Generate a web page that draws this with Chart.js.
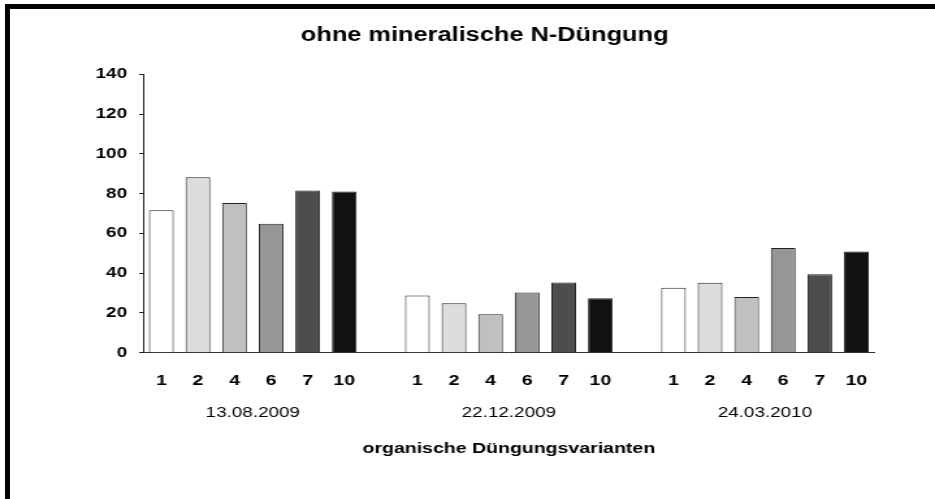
<!DOCTYPE html>
<html>
<head>
<meta charset="utf-8">
<script src="https://cdn.jsdelivr.net/npm/chart.js@4/dist/chart.umd.min.js"></script>
<style>
  html, body { margin: 0; padding: 0; background: #fff; width: 935px; height: 499px; overflow: hidden; }
  #frame { position: absolute; left: 5px; top: 4px; width: 930px; height: 495px; border-top: 5px solid #000; border-left: 5px solid #000; box-sizing: border-box; pointer-events: none; }
  #wrap { position: absolute; left: 0; top: 0; width: 719px; height: 499px; transform: scaleX(1.30042); transform-origin: 0 0; }
</style>
</head>
<body>
<div id="wrap"><canvas id="c" width="719" height="499"></canvas></div>
<div id="frame"></div>
<script>
// ---- data ----
const variants = ['1', '2', '4', '6', '7', '10'];
const dates = ['13.08.2009', '22.12.2009', '24.03.2010'];
const values_13_08_2009 = [71.6, 88.2, 75.3, 64.9, 81.6, 81.1];
const values_22_12_2009 = [28.8, 24.9, 19.3, 30.3, 35.3, 27.4];
const values_24_03_2010 = [32.7, 35.2, 28.0, 52.6, 39.4, 50.9];
const yTickStep = 20;
const yMax = 140;
const variantColors = ['#ffffff', '#dddddd', '#c0c0c0', '#969696', '#4d4d4d', '#111111'];

// ---- build category table: 6 bars, blank slot, 6 bars, blank slot, 6 bars ----
const groups = [values_13_08_2009, values_22_12_2009, values_24_03_2010];
const labels = [];
const dateSlots = [];
const data = [];
const colors = [];
groups.forEach((vals, g) => {
  if (g > 0) { labels.push(''); dateSlots.push(''); data.push(null); colors.push('#ffffff'); }
  vals.forEach((v, i) => {
    labels.push(variants[i]);
    dateSlots.push(i === Math.floor((vals.length - 1) / 2) ? dates[g] : '');
    data.push(v);
    colors.push(variantColors[i]);
  });
});

const FAM = "'Liberation Sans', Arial, sans-serif";
const PLOT_W = 562.6;                       // chart area width (unscaled px)
const HALF_SLOT = PLOT_W / labels.length / 2; // shift date label to group centre

new Chart(document.getElementById('c'), {
  type: 'bar',
  data: {
    labels: labels,
    datasets: [{
      data: data,
      backgroundColor: colors,
      borderColor: '#222',
      borderWidth: 1,
      barPercentage: 0.675,
      categoryPercentage: 1.0
    }]
  },
  options: {
    responsive: false,
    animation: false,
    devicePixelRatio: 1,
    layout: { padding: { left: 72.8, right: 46.4, top: 0, bottom: 40.7 } },
    plugins: {
      legend: { display: false },
      tooltip: { enabled: false },
      title: {
        display: true,
        text: 'ohne mineralische N-Düngung',
        color: '#000',
        font: { family: FAM, size: 19.5, weight: 'bold' },
        padding: { top: 23.8, bottom: 27.1 }
      }
    },
    scales: {
      x: {
        type: 'category',
        position: 'bottom',
        weight: 0,
        offset: true,
        grid: { display: false, drawTicks: false, tickLength: 0 },
        border: { display: true, color: '#333', width: 1 },
        ticks: {
          color: '#000',
          font: { family: FAM, size: 15, weight: 'bold' },
          padding: 19.1,
          autoSkip: false,
          maxRotation: 0
        },
        afterFit: (s) => { s.height = 37.1; }
      },
      x2: {
        type: 'category',
        labels: dateSlots,
        position: 'bottom',
        weight: 1,
        offset: true,
        grid: { display: false, drawTicks: false, tickLength: 0 },
        border: { display: false },
        ticks: {
          color: '#000',
          font: { family: FAM, size: 14.5 },
          padding: 14.5,
          autoSkip: false,
          maxRotation: 0,
          labelOffset: HALF_SLOT
        },
        title: {
          display: true,
          text: 'organische Düngungsvarianten',
          color: '#000',
          font: { family: FAM, size: 15, weight: 'bold' },
          padding: { top: 18.6, bottom: 0 }
        },
        afterFit: (s) => { s.height = 68.5; }
      },
      y: {
        min: 0,
        max: yMax,
        grid: { display: true, drawOnChartArea: false, drawTicks: true, tickLength: 3, color: '#222', lineWidth: 1 },
        border: { display: true, color: '#222', width: 1 },
        ticks: {
          stepSize: yTickStep,
          color: '#000',
          font: { family: FAM, size: 14.5, weight: 'bold' },
          padding: 9.3
        },
        afterFit: (s) => { s.width = 37.2; }
      }
    }
  }
});
</script>
</body>
</html>
